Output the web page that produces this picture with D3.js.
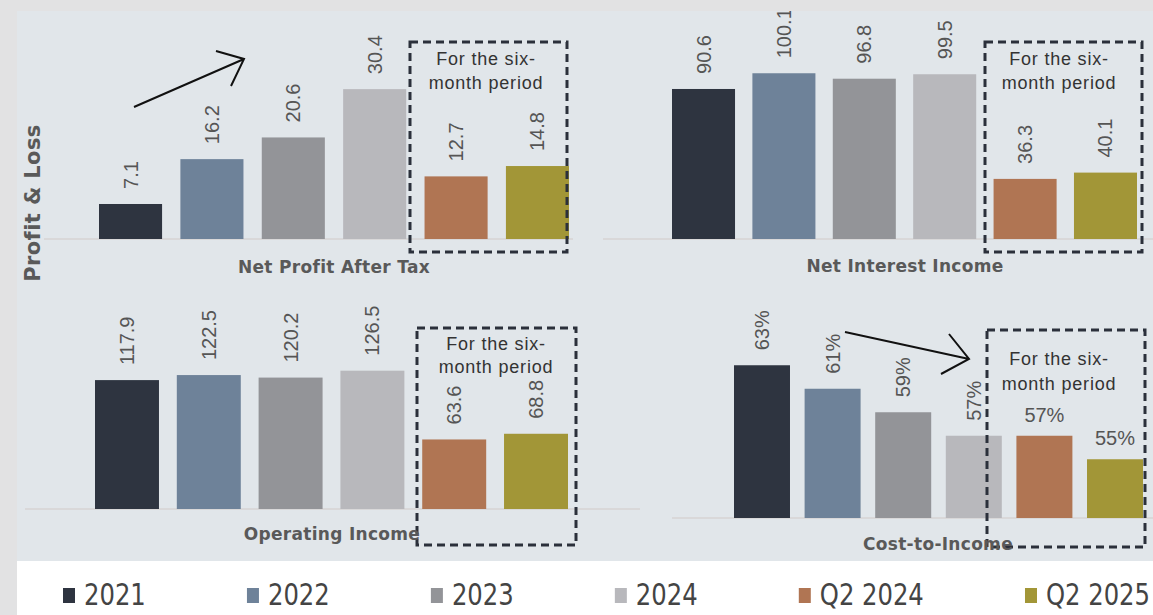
<!DOCTYPE html>
<html>
<head>
<meta charset="utf-8">
<script src="https://cdn.jsdelivr.net/npm/d3@7/dist/d3.min.js"></script>
<style>
  html, body { margin: 0; padding: 0; background: #e2e2e3; }
  svg { display: block; }
</style>
</head>
<body>
<script>
// ---- data ----
const categories = ["2021", "2022", "2023", "2024", "Q2 2024", "Q2 2025"];
const netProfitAfterTax = [7.1, 16.2, 20.6, 30.4, 12.7, 14.8];
const netInterestIncome = [90.6, 100.1, 96.8, 99.5, 36.3, 40.1];
const operatingIncome = [117.9, 122.5, 120.2, 126.5, 63.6, 68.8];
const costToIncome = [63, 61, 59, 57, 57, 55];
const seriesColors = ["#2e3440", "#6e8299", "#939498", "#b8b8bc", "#b07553", "#a29637"];
const panelTitles = ["Net Profit After Tax", "Net Interest Income", "Operating Income", "Cost-to-Income"];
const periodNote = ["For the six-", "month period"];
const sectionLabel = "Profit & Loss";

// ---- layout ----
const W = 1153, H = 615;
const svg = d3.select("body").append("svg").attr("width", W).attr("height", H);

svg.append("rect").attr("width", W).attr("height", H).attr("fill", "#e2e2e3");
svg.append("rect").attr("x", 17).attr("y", 11).attr("width", W - 17).attr("height", 550).attr("fill", "#e1e6ea");
svg.append("rect").attr("x", 17).attr("y", 561).attr("width", W - 17).attr("height", H - 561).attr("fill", "#ffffff");

const defs = svg.append("defs");
defs.append("clipPath").attr("id", "panelClip")
  .append("rect").attr("x", 17).attr("y", 11).attr("width", W - 17).attr("height", 550);

const root = svg.append("g").attr("clip-path", "url(#panelClip)");

const fmt1 = d3.format(".1f");
const fmtPct = d => d3.format("d")(d) + "%";

const panels = [
  { title: panelTitles[0], values: netProfitAfterTax, fmt: fmt1,
    xRange: [99, 569], pad: 0.225, yDomain: [0, 40], yRange: [239, 41.8],
    baseline: [44, 573], box: [410, 42, 567, 252], note: [486, 65, 89], titlePos: [334, 273],
    arrow: [[134, 107], [244, 59]], arms: [[216, 51], [231, 86]] },
  { title: panelTitles[1], values: netInterestIncome, fmt: fmt1,
    xRange: [672, 1137], pad: 0.216, yDomain: [0, 120], yRange: [239, 40.3],
    baseline: [603, 1153], box: [985, 42, 1142, 252], note: [1059, 65, 89], titlePos: [905, 272] },
  { title: panelTitles[2], values: operatingIncome, fmt: fmt1,
    xRange: [95, 568], pad: 0.218, yDomain: [0, 150], yRange: [509, 345],
    baseline: [25, 640], box: [417, 328, 576, 545], note: [496, 350, 373], titlePos: [332, 540] },
  { title: panelTitles[3], values: costToIncome, fmt: fmtPct, flatFrom: 4,
    xRange: [734, 1143], pad: 0.207, yDomain: [50, 65], yRange: [518, 341.75],
    baseline: [672, 1153], box: [987, 330, 1145, 547], note: [1059, 365, 390], titlePos: [938, 550],
    arrow: [[845, 332], [969, 359]], arms: [[949, 334], [941, 374]] }
];

const labelFont = "'Liberation Sans', Arial, sans-serif";
const titleFont = "'DejaVu Sans', Verdana, sans-serif";

panels.forEach(p => {
  const g = root.append("g");
  const x = d3.scaleBand().domain(categories).range(p.xRange).paddingInner(p.pad).paddingOuter(0);
  const y = d3.scaleLinear().domain(p.yDomain).range(p.yRange);
  const rows = categories.map((c, i) => ({ c, v: p.values[i], i }));

  // baseline
  g.append("line")
    .attr("x1", p.baseline[0]).attr("x2", p.baseline[1])
    .attr("y1", y(p.yDomain[0])).attr("y2", y(p.yDomain[0]))
    .attr("stroke", "#d6d3d3").attr("stroke-width", 1.5);

  // bars
  g.selectAll("rect.bar").data(rows).join("rect")
    .attr("class", "bar")
    .attr("x", d => x(d.c))
    .attr("width", x.bandwidth())
    .attr("y", d => y(d.v))
    .attr("height", d => y(p.yDomain[0]) - y(d.v))
    .attr("fill", d => seriesColors[d.i]);

  // value labels (rotated, except the flat ones)
  g.selectAll("text.val").data(rows).join("text")
    .attr("class", "val")
    .attr("font-family", labelFont)
    .attr("font-size", 20)
    .attr("fill", "#555")
    .each(function (d) {
      const t = d3.select(this);
      const cx = x(d.c) + x.bandwidth() / 2;
      const top = y(d.v);
      if (p.flatFrom !== undefined && d.i >= p.flatFrom) {
        t.attr("x", cx).attr("y", top - 14).attr("text-anchor", "middle");
      } else {
        t.attr("transform", `translate(${cx + 7},${top - 15}) rotate(-90)`)
          .attr("text-anchor", "start");
      }
    })
    .text(d => p.fmt(d.v));

  // half-year dashed frame
  const [bx0, by0, bx1, by1] = p.box;
  g.append("rect")
    .attr("x", bx0).attr("y", by0).attr("width", bx1 - bx0).attr("height", by1 - by0)
    .attr("fill", "none").attr("stroke", "#2b303b").attr("stroke-width", 3)
    .attr("stroke-dasharray", "8,5");

  g.selectAll("text.note").data(periodNote).join("text")
    .attr("class", "note")
    .attr("x", p.note[0])
    .attr("y", (d, i) => p.note[1 + i])
    .attr("text-anchor", "middle")
    .attr("font-family", labelFont)
    .attr("font-size", 18)
    .attr("letter-spacing", 0.8)
    .attr("fill", "#333")
    .text(d => d);

  // panel title
  g.append("text")
    .attr("x", p.titlePos[0]).attr("y", p.titlePos[1])
    .attr("text-anchor", "middle")
    .attr("font-family", titleFont)
    .attr("font-weight", "bold")
    .attr("font-size", 17)
    .attr("letter-spacing", 0.3)
    .attr("fill", "#595959")
    .text(p.title);

  // trend arrow
  if (p.arrow) {
    const [a, b] = p.arrow;
    g.append("path")
      .attr("d", d3.line()([a, b]) + d3.line()([p.arms[0], b, p.arms[1]]))
      .attr("fill", "none").attr("stroke", "#111").attr("stroke-width", 2)
      .attr("stroke-linejoin", "miter");
  }
});

// section label
root.append("text")
  .attr("transform", "translate(40,203) rotate(-90)")
  .attr("text-anchor", "middle")
  .attr("font-family", titleFont)
  .attr("font-weight", "bold")
  .attr("font-size", 21)
  .attr("letter-spacing", 0.4)
  .attr("fill", "#595959")
  .text(sectionLabel);

// legend: entries separated by equal gaps, the last one ending near the right edge
const textOffset = 21, textScale = 0.9;
const legend = svg.append("g");
const items = legend.selectAll("g").data(categories).join("g");
items.append("rect")
  .attr("x", 0).attr("y", 588).attr("width", 12).attr("height", 15)
  .attr("fill", (d, i) => seriesColors[i]);
items.append("text")
  .attr("transform", `translate(${textOffset},605) scale(${textScale},1)`)
  .attr("font-family", "'DejaVu Sans Condensed', 'DejaVu Sans', sans-serif")
  .attr("font-stretch", "condensed")
  .attr("font-size", 30)
  .attr("fill", "#444")
  .text(d => d);

const widths = items.select("text").nodes().map(n => n.getComputedTextLength() * textScale);
const firstX = 63;
const lastX = W - 3 - textOffset - widths[widths.length - 1];
const used = d3.sum(widths.slice(0, -1), w => w + textOffset);
const gap = (lastX - firstX - used) / (categories.length - 1);
let cursor = firstX;
const starts = widths.map(w => { const s = cursor; cursor += textOffset + w + gap; return s; });
items.attr("transform", (d, i) => `translate(${starts[i]},0)`);
</script>
</body>
</html>
